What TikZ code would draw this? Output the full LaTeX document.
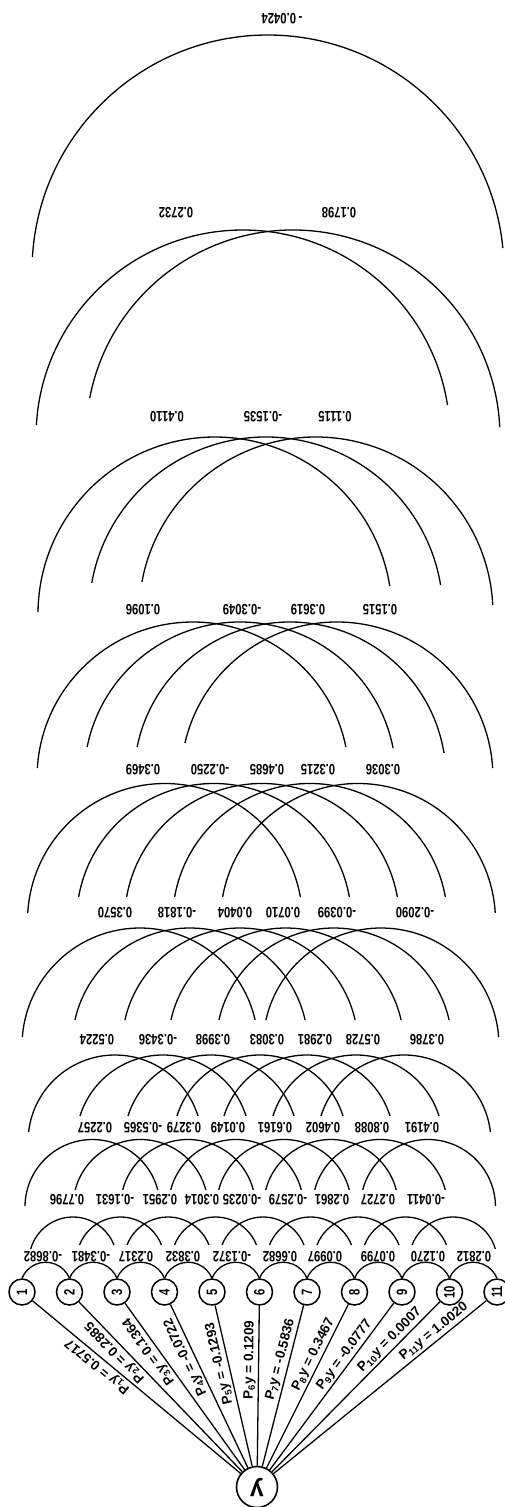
\documentclass[tikz,border=0pt]{standalone}
\usepackage{fontspec}
\usepackage{graphicx}
\setmainfont{Liberation Sans}
\newfontfamily\labfont[FakeStretch=0.75]{Liberation Sans}
\newcommand\harc[5]{%
  \draw[arcline] ({#1},{#2}) ++({-180+asin(#4/#3)}:{#3})
    arc[start angle={-180+asin(#4/#3)}, end angle={-asin(#5/#3)}, radius={#3}];}
\begin{document}
\begin{tikzpicture}[x=1pt,y=-1pt,
  arcline/.style={line width=1.3pt},
  conn/.style={line width=1.3pt},
  numnode/.style={circle,draw,line width=1.5pt,minimum size=26pt,inner sep=0pt,
    font=\labfont\bfseries\fontsize{15}{15}\selectfont},
  ynode/.style={circle,draw,line width=1.6pt,minimum size=41pt,inner sep=0pt,
    font=\bfseries\fontsize{25}{25}\selectfont},
  albl/.style={font=\labfont\bfseries\fontsize{15}{15}\selectfont,rotate=180,inner sep=0pt},
  plbl/.style={font=\bfseries\fontsize{13.5}{13.5}\selectfont,sloped,allow upside down,above,inner sep=2pt}]
\useasboundingbox (0,0) rectangle (505,1507);

% variable nodes
\foreach \i in {1,...,11}
  {\node[numnode] (c\i) at ({22+47.5*(\i-1)},1292) {\rotatebox{90}{\i}};}
\node[ynode] (y) at (257,1487) {\rotatebox{180}{y}};

% paths to y
\draw[conn] (y) -- node[plbl,pos=0.66] {P\textsubscript{1}y = 0.5717} (c1);
\draw[conn] (y) -- node[plbl,pos=0.74] {P\textsubscript{2}y = 0.2885} (c2);
\draw[conn] (y) -- node[plbl,pos=0.74] {P\textsubscript{3}y = 0.1364} (c3);
\draw[conn] (y) -- node[plbl,pos=0.70] {P\textsubscript{4}y = -0.0722} (c4);
\draw[conn] (y) -- node[plbl,pos=0.65] {P\textsubscript{5}y = -0.1293} (c5);
\draw[conn] (y) -- node[plbl,pos=0.66] {P\textsubscript{6}y = 0.1209} (c6);
\draw[conn] (y) -- node[plbl,pos=0.65] {P\textsubscript{7}y = -0.5836} (c7);
\draw[conn] (y) -- node[plbl,pos=0.67] {P\textsubscript{8}y = 0.3467} (c8);
\draw[conn] (y) -- node[plbl,pos=0.66] {P\textsubscript{9}y = -0.0777} (c9);
\draw[conn] (y) -- node[plbl,pos=0.74] {P\textsubscript{10}y = 0.0007} (c10);
\draw[conn] (y) -- node[plbl,pos=0.78] {P\textsubscript{11}y = 1.0020} (c11);

% layer 1 humps between neighbours
\foreach \i in {1,...,10}
  {\draw[arcline] (c\i.north) arc[start angle=-158,end angle=-22,radius=25.6];}

% layer 2
\foreach \c/\a/\b in {73/12/16,120.5/16/16,168/16/16,215.5/16/16,263/16/16,310.5/16/16,358/16/16,405.5/16/16,453/16/12}
  {\harc{\c}{1261}{44}{\a}{\b}}
% layer 3
\foreach \c/\a/\b in {92.5/1/17,140.5/17/17,188/17/17,236/17/17,284/17/17,331/17/17,380/17/17,428/17/1}
  {\harc{\c}{1207}{67.5}{\a}{\b}}
% layer 4
\foreach \c/\a/\b in {115/10/26,163/26/26,211/26/26,260/26/26,307/26/26,356/26/26,404/26/10}
  {\harc{\c}{1142}{87}{\a}{\b}}
% layer 5
\foreach \c/\a/\b in {140/9/26,190/26/26,240/26/26,286/26/26,334/26/26,381/26/9}
  {\harc{\c}{1046}{118}{\a}{\b}}
% layer 6
\foreach \c/\a/\b in {165/8/24,214/24/24,262/24/24,310/24/24,358/24/8}
  {\harc{\c}{921}{137.5}{\a}{\b}}
% layer 7
\foreach \c/\a/\b in {193/10/31,240/31/30,290/31/25,337/35/10}
  {\harc{\c}{778}{156}{\a}{\b}}
% layer 8
\foreach \c/\a/\b in {215/2/28,266/31/29,316/32/9}
  {\harc{\c}{614}{177}{\a}{\b}}
% layer 9
\harc{243}{437}{207}{12}{32}
\harc{293}{437}{207}{39}{10}
% layer 10
\harc{268}{271}{236}{14}{23}

% labels (upside down)
\foreach \t/\x [count=\n] in {-0.8682/43,-0.3481/91,0.2317/136,0.3832/183,-0.1372/232,0.6682/280,0.0997/325,0.0799/378,0.1270/428,0.2812/474}
  {\node[albl] (ka\n) at (\x,1257) {\t};}
\foreach \t/\x [count=\n] in {0.7796/67,-0.1631/115,0.2951/160,0.3014/202,-0.0235/242,-0.2579/288,0.2861/332,0.2727/378,-0.0411/426}
  {\node[albl] (kb\n) at (\x,1200) {\t};}
\foreach \t/\x [count=\n] in {0.2257/95,-0.5365/143,0.3279/184,0.0149/228,0.6161/275,0.4602/323,0.8088/372,0.4191/422}
  {\node[albl] (kc\n) at (\x,1128) {\t};}
\foreach \t/\x [count=\n] in {0.5224/97,-0.3436/158,0.3998/213,0.3083/267,0.2981/315,0.5728/363,0.3786/427}
  {\node[albl] (kd\n) at (\x,1040) {\t};}
\foreach \t/\x [count=\n] in {0.3570/115,-0.1818/177,0.0404/235,0.0710/283,-0.0399/337,-0.2090/415}
  {\node[albl] (ke\n) at (\x,913) {\t};}
\foreach \t/\x [count=\n] in {0.3469/143,-0.2250/210,0.4685/267,0.3215/318,0.3036/383}
  {\node[albl] (kf\n) at (\x,770) {\t};}
\foreach \t/\x [count=\n] in {0.1096/143,-0.3049/242,0.3619/308,0.1515/380}
  {\node[albl] (kg\n) at (\x,610) {\t};}
\foreach \t/\x [count=\n] in {0.4110/167,-0.1535/263,0.1115/335}
  {\node[albl] (kh\n) at (\x,417) {\t};}
\foreach \t/\x [count=\n] in {0.2732/176,0.1798/339}
  {\node[albl] (ki\n) at (\x,213) {\t};}
\node[albl] (kj1) at (282,19) {-\,0.0424};
\end{tikzpicture}
\end{document}
